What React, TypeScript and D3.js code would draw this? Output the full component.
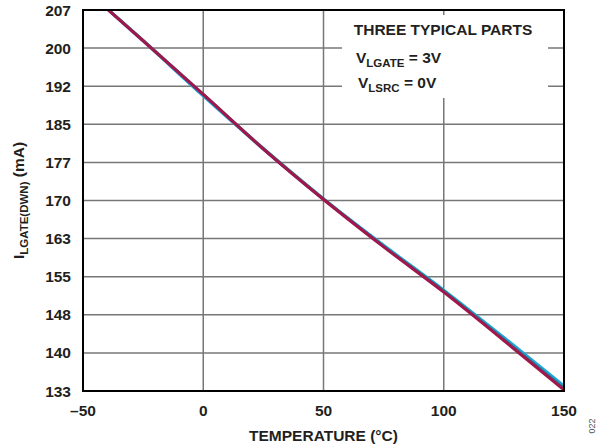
import React from "react";
import * as d3 from "d3";

const temps = [-40, -25, 0, 25, 50, 75, 100, 125, 150];
const partA = [207.2, 201.0, 190.3, 180.0, 170.3, 161.3, 152.6, 143.4, 134.0];
const partB = [207.3, 201.1, 190.6, 180.1, 170.3, 161.1, 152.4, 143.0, 133.5];
const partC = [207.2, 201.0, 190.6, 180.0, 170.2, 161.0, 152.2, 142.8, 133.2];
const xTicks = [-50, 0, 50, 100, 150];
const yTickLabels = ["133", "140", "148", "155", "163", "170", "177", "185", "192", "200", "207"];
const seriesColors = ["#1ea7dc", "#2f6f80", "#a1174c"];

const W = 599, H = 446;
const L = 83, R = 564, T = 10, B = 391;

export default function App() {
  const x = d3.scaleLinear().domain([-50, 150]).range([L, R]);
  const y = d3.scaleLinear().domain([133, 207]).range([B, T]);
  const yTicks = d3.range(11).map((i) => 133 + i * 7.4);
  const line = d3
    .line<number>()
    .x((_, i) => x(temps[i]))
    .y((d) => y(d))
    .curve(d3.curveMonotoneX);
  const series = [partA, partB, partC];
  const font = "'Liberation Sans', Arial, sans-serif";
  return (
    <svg width={W} height={H} style={{ position: "absolute", left: 0, top: 0 }} fontFamily={font}>
      <defs>
        <clipPath id="plot">
          <rect x={L} y={T} width={R - L} height={B - T} />
        </clipPath>
      </defs>
      <rect x={0} y={0} width={W} height={H} fill="#fff" />
      {yTicks.slice(1, -1).map((v, i) => (
        <line key={"gy" + i} x1={L} x2={R} y1={y(v)} y2={y(v)} stroke="#777" strokeWidth={1.5} />
      ))}
      {xTicks.slice(1, -1).map((v) => (
        <line key={"gx" + v} x1={x(v)} x2={x(v)} y1={T} y2={B} stroke="#777" strokeWidth={1.5} />
      ))}
      <rect x={342} y={15} width={206} height={83} fill="#fff" />
      <text x={443} y={35} textAnchor="middle" fontWeight="bold" fontSize={15.5} fill="#231f20">
        THREE TYPICAL PARTS
      </text>
      <text x={356} y={63} fontWeight="bold" fontSize={15.5} fill="#231f20">
        V<tspan fontSize={11.5} dy={4}>LGATE</tspan>
        <tspan dy={-4}> = 3V</tspan>
      </text>
      <text x={358} y={88} fontWeight="bold" fontSize={15.5} fill="#231f20">
        V<tspan fontSize={11.5} dy={4}>LSRC</tspan>
        <tspan dy={-4}> = 0V</tspan>
      </text>
      <g clipPath="url(#plot)">
        {series.map((s, i) => (
          <path key={i} d={line(s) || ""} fill="none" stroke={seriesColors[i]} strokeWidth={3} />
        ))}
      </g>
      <rect x={L} y={T} width={R - L} height={B - T} fill="none" stroke="#000" strokeWidth={2} />
      {yTicks.map((v, i) => (
        <text key={"ty" + i} x={71} y={y(v) + 5.5} textAnchor="end" fontWeight="bold" fontSize={15.5} fill="#231f20">
          {yTickLabels[i]}
        </text>
      ))}
      {xTicks.map((v) => (
        <text key={"tx" + v} x={x(v)} y={416} textAnchor="middle" fontWeight="bold" fontSize={15.5} fill="#231f20">
          {v < 0 ? "\u2013" + Math.abs(v) : v}
        </text>
      ))}
      <text x={(L + R) / 2} y={441} textAnchor="middle" fontWeight="bold" fontSize={15.5} fill="#231f20">
        TEMPERATURE (°C)
      </text>
      <text transform={`translate(24, ${(T + B) / 2}) rotate(-90)`} textAnchor="middle" fontWeight="bold" fontSize={15.5} fill="#231f20">
        I<tspan fontSize={11.5} dy={4}>LGATE(DWN)</tspan>
        <tspan dy={-4}> (mA)</tspan>
      </text>
      <text transform="translate(595, 426) rotate(-90)" textAnchor="middle" fontSize={9} fill="#555">
        022
      </text>
    </svg>
  );
}
